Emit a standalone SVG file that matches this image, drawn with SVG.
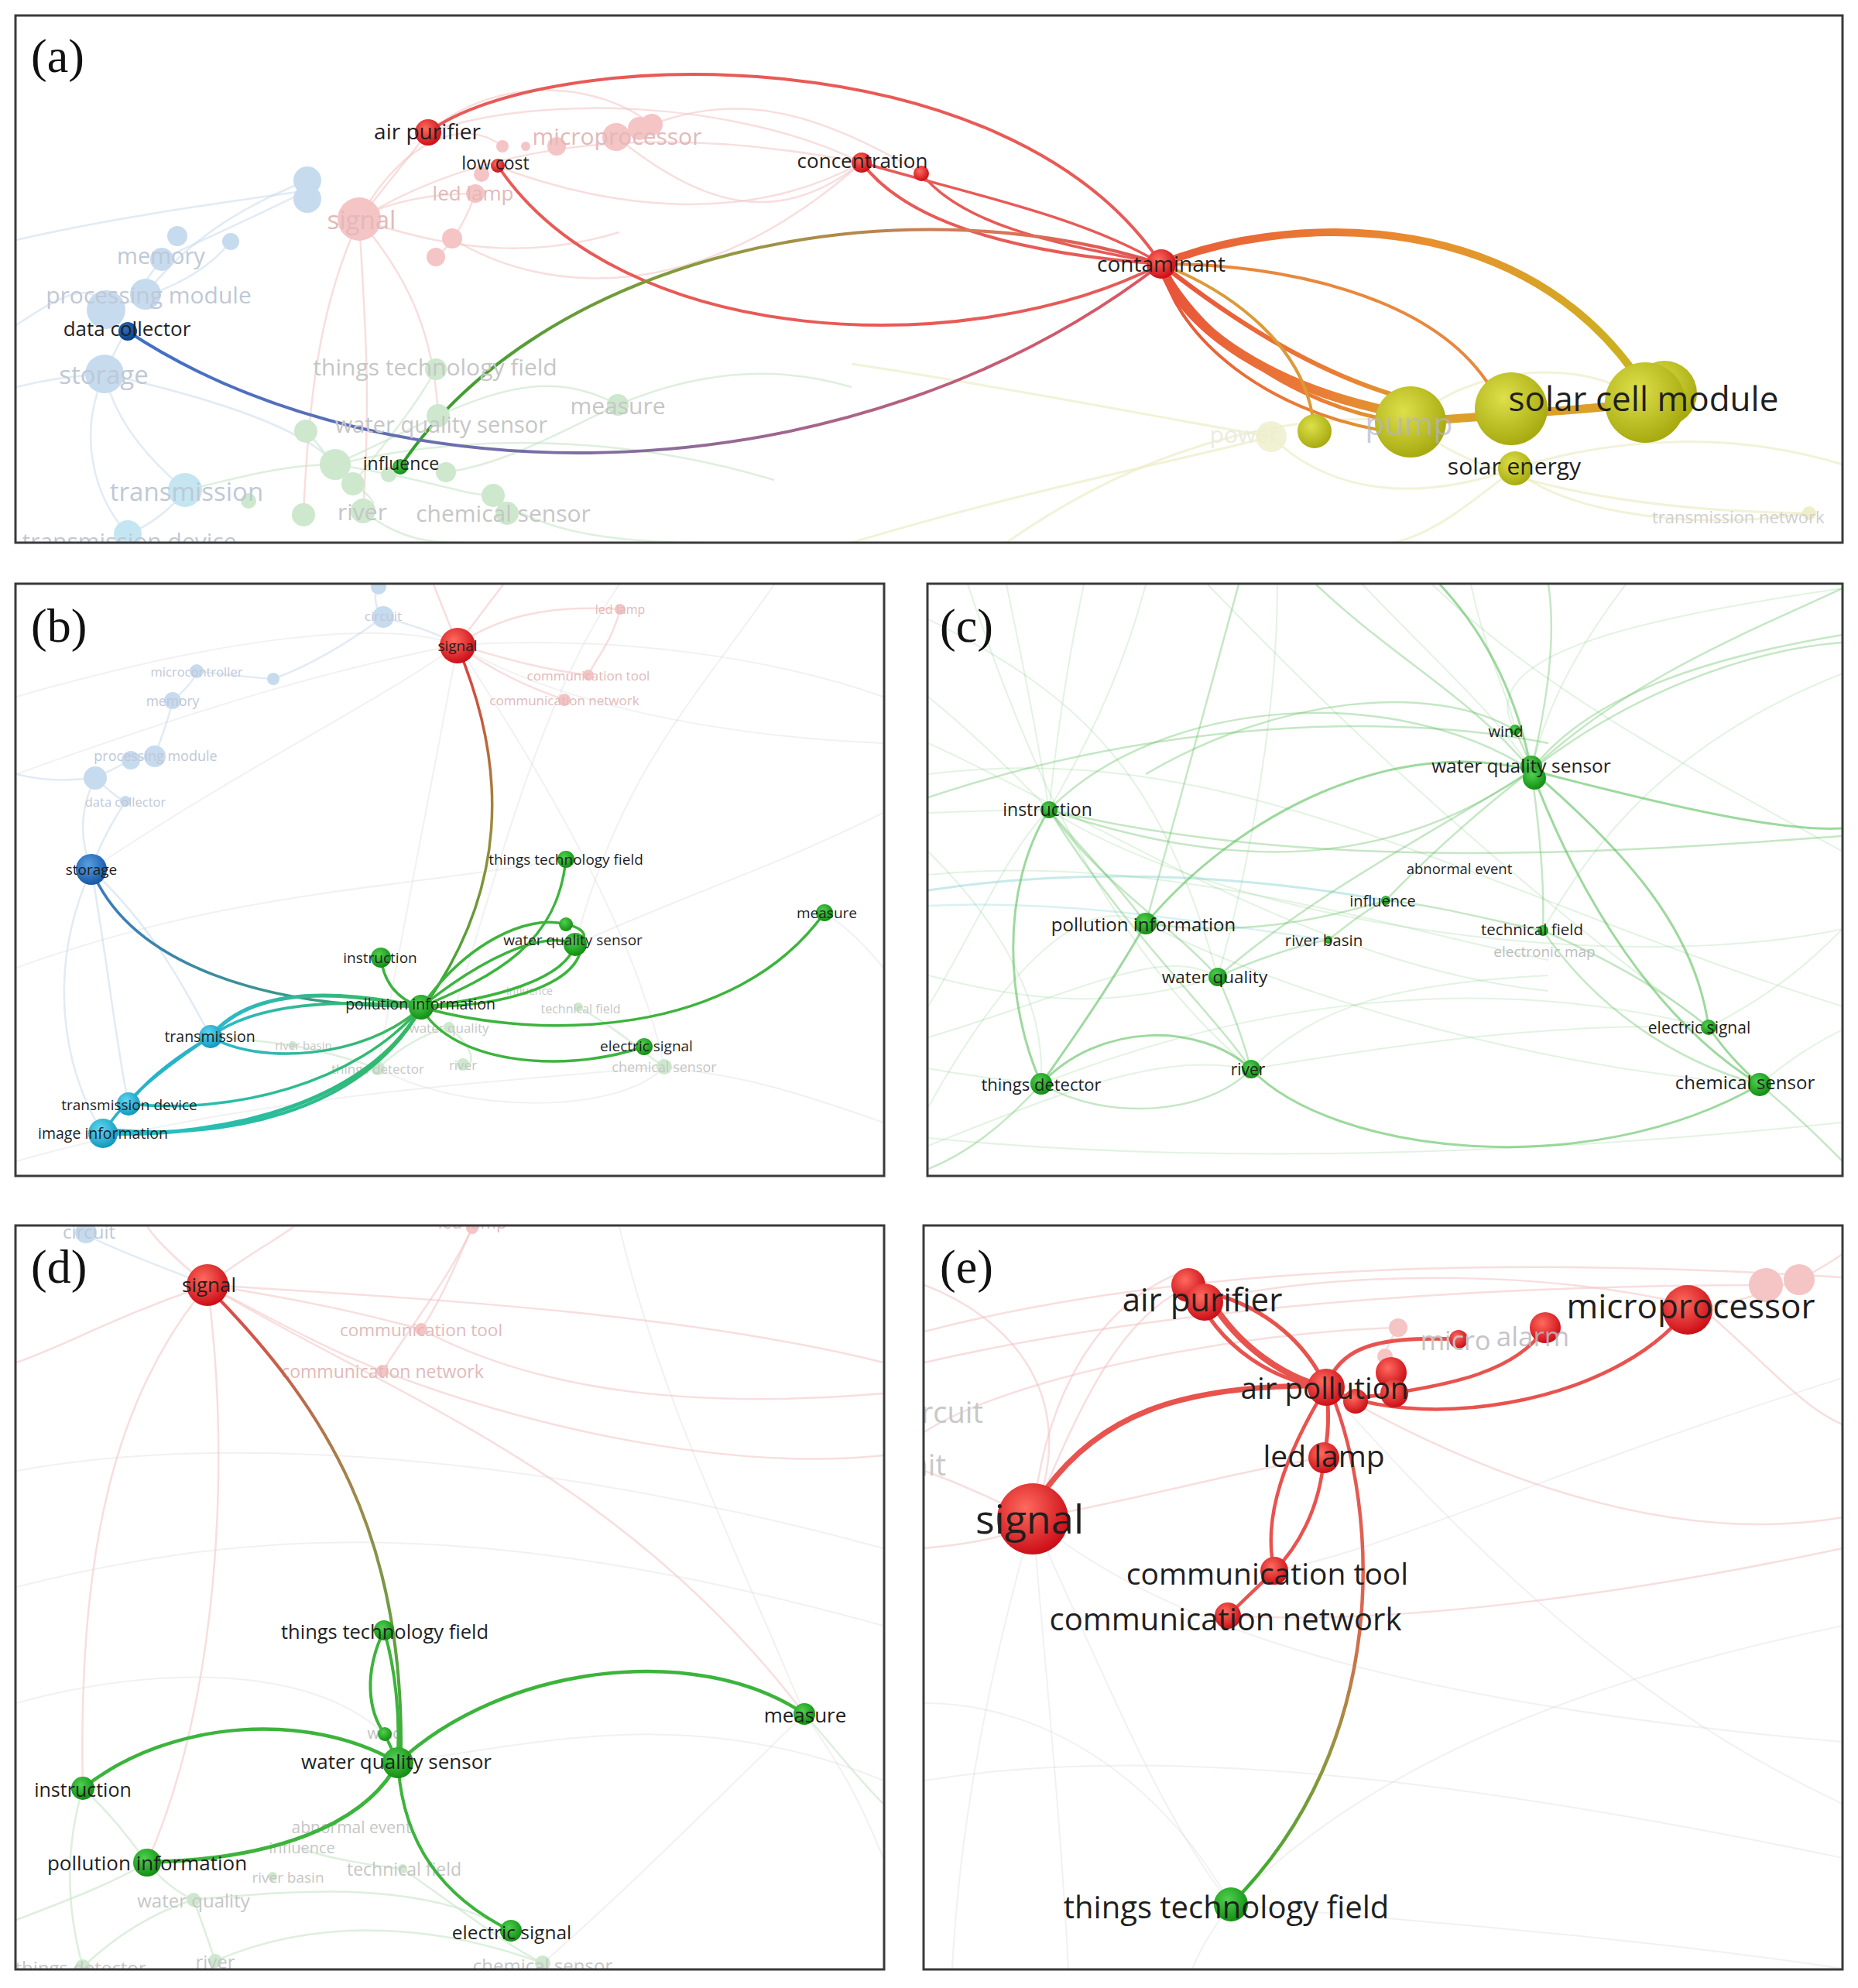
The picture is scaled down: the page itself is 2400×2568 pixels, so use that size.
<svg xmlns="http://www.w3.org/2000/svg" width="2400" height="2568" viewBox="0 0 2400 2568">
<style>
.t{font-family:"Open Sans","DejaVu Sans",sans-serif;fill:#1f1f1f;text-anchor:middle;dominant-baseline:central}
.fg{fill:#c6c6c6}.fp{fill:#e2b9b9}.fb{fill:#bfc8d6}
.pl{font-family:"Liberation Serif","Times New Roman",serif;font-size:62px;fill:#111}
.fr{fill:none;stroke:#3a3a3a;stroke-width:3}
.e{fill:none;stroke-linecap:round}
.bp{fill:none;stroke:#f2c2c2;stroke-width:2.5;opacity:.55}
.bb{fill:none;stroke:#c4d8ec;stroke-width:2.5;opacity:.5}
.bg{fill:none;stroke:#c6e4c6;stroke-width:2.5;opacity:.6}
.by{fill:none;stroke:#ecedc8;stroke-width:3;opacity:.7}
.bx{fill:none;stroke:#d8d8d8;stroke-width:2;opacity:.35}
.c1{fill:none;stroke:#5cbf5c;stroke-width:3;opacity:.6}
.c2{fill:none;stroke:#6cc46c;stroke-width:2.5;opacity:.4}
.c3{fill:none;stroke:#8ccf8c;stroke-width:2;opacity:.25}
.nR{fill:url(#gR)}.nG{fill:url(#gG)}.nB{fill:url(#gB)}.nC{fill:url(#gC)}.nY{fill:url(#gY)}
.pR{fill:#f5c4c4}.pB{fill:#c7dbef}.pG{fill:#cde8cd}.pC{fill:#c4e6f2}.pY{fill:#eeefca}
</style>
<defs>
<radialGradient id="gR" cx="40%" cy="35%" r="65%"><stop offset="0" stop-color="#ff6a5e"/><stop offset="1" stop-color="#cc0f18"/></radialGradient>
<radialGradient id="gG" cx="40%" cy="35%" r="65%"><stop offset="0" stop-color="#4fd04f"/><stop offset="1" stop-color="#138f13"/></radialGradient>
<radialGradient id="gB" cx="40%" cy="35%" r="65%"><stop offset="0" stop-color="#5a9ee0"/><stop offset="1" stop-color="#1558a8"/></radialGradient>
<radialGradient id="gDB" cx="40%" cy="35%" r="65%"><stop offset="0" stop-color="#2a70c0"/><stop offset="1" stop-color="#0a3f80"/></radialGradient>
<radialGradient id="gC" cx="40%" cy="35%" r="65%"><stop offset="0" stop-color="#5fd8f0"/><stop offset="1" stop-color="#1498bf"/></radialGradient>
<radialGradient id="gY" cx="40%" cy="35%" r="65%"><stop offset="0" stop-color="#dde04a"/><stop offset="1" stop-color="#a8ab10"/></radialGradient>
<linearGradient id="eA1" gradientUnits="userSpaceOnUse" x1="165" y1="428" x2="1500" y2="341"><stop offset="0" stop-color="#3d70c8"/><stop offset=".5" stop-color="#8a6c9c"/><stop offset="1" stop-color="#e05560"/></linearGradient>
<linearGradient id="eA2" gradientUnits="userSpaceOnUse" x1="517" y1="603" x2="1500" y2="341"><stop offset="0" stop-color="#2e9e2e"/><stop offset=".45" stop-color="#8e9a40"/><stop offset=".8" stop-color="#d8765a"/><stop offset="1" stop-color="#e05050"/></linearGradient>
<linearGradient id="eA3" gradientUnits="userSpaceOnUse" x1="1500" y1="341" x2="2125" y2="520"><stop offset="0" stop-color="#ea5a3a"/><stop offset=".5" stop-color="#e8902e"/><stop offset="1" stop-color="#c9b51e"/></linearGradient>
<linearGradient id="eA4" gradientUnits="userSpaceOnUse" x1="1500" y1="341" x2="1822" y2="545"><stop offset="0" stop-color="#e8503a"/><stop offset=".7" stop-color="#ea7e36"/><stop offset="1" stop-color="#dca02a"/></linearGradient>
<linearGradient id="eB1" gradientUnits="userSpaceOnUse" x1="600" y1="835" x2="560" y2="1295"><stop offset="0" stop-color="#e03c3c"/><stop offset=".5" stop-color="#9a8c3c"/><stop offset="1" stop-color="#36aa36"/></linearGradient>
<linearGradient id="eB2" gradientUnits="userSpaceOnUse" x1="118" y1="1123" x2="544" y2="1301"><stop offset="0" stop-color="#3a78c4"/><stop offset="1" stop-color="#3aa86a"/></linearGradient>
<linearGradient id="eB3" gradientUnits="userSpaceOnUse" x1="272" y1="1339" x2="544" y2="1301"><stop offset="0" stop-color="#2ab8d0"/><stop offset="1" stop-color="#3cb84c"/></linearGradient>
<linearGradient id="eB4" gradientUnits="userSpaceOnUse" x1="133" y1="1464" x2="544" y2="1301"><stop offset="0" stop-color="#22c0d8"/><stop offset="1" stop-color="#34b85a"/></linearGradient>
<linearGradient id="eD1" gradientUnits="userSpaceOnUse" x1="281" y1="1676" x2="518" y2="2258"><stop offset="0" stop-color="#e04848"/><stop offset=".5" stop-color="#9c8a4a"/><stop offset="1" stop-color="#3ab03a"/></linearGradient>
<linearGradient id="eE1" gradientUnits="userSpaceOnUse" x1="1720" y1="1800" x2="1590" y2="2460"><stop offset="0" stop-color="#e85050"/><stop offset=".4" stop-color="#de6650"/><stop offset=".65" stop-color="#a09040"/><stop offset="1" stop-color="#2eb02e"/></linearGradient>
<clipPath id="ca"><rect x="21" y="21" width="2358" height="679"/></clipPath>
<clipPath id="cb"><rect x="21" y="755" width="1120" height="763"/></clipPath>
<clipPath id="cc"><rect x="1199" y="755" width="1180" height="763"/></clipPath>
<clipPath id="cd"><rect x="21" y="1584" width="1120" height="959"/></clipPath>
<clipPath id="ce"><rect x="1194" y="1584" width="1185" height="959"/></clipPath>
</defs>
<rect width="2400" height="2568" fill="#fff"/>

<!-- ================= PANEL A ================= -->
<g id="panel-a" clip-path="url(#ca)">
<g id="a-background">
<path class="bp" d="M553,171 C700,120 950,130 1113,210"/>
<path class="bp" d="M464,283 C600,200 800,150 1113,210"/>
<path class="bp" d="M464,283 C520,350 560,420 566,537"/>
<path class="bp" d="M464,283 C470,400 480,500 469,660"/>
<path class="bp" d="M464,283 C420,380 400,480 392,665"/>
<path class="bp" d="M464,283 C520,180 600,150 649,189"/>
<path class="bp" d="M464,283 L553,171"/>
<path class="bp" d="M464,283 C500,260 560,250 614,250"/>
<path class="bp" d="M614,250 C600,290 580,320 563,332"/>
<path class="bp" d="M640,214 C760,260 950,300 1113,210"/>
<path class="bp" d="M842,161 C950,120 1050,140 1190,224"/>
<path class="bp" d="M796,177 C900,260 1000,300 1113,210"/>
<path class="bp" d="M553,171 C650,90 780,110 842,161"/>
<path class="bp" d="M464,283 C600,330 700,330 800,300"/>
<path class="bp" d="M584,308 C700,380 900,400 1113,210"/>
<path class="bb" d="M397,246 C330,280 260,310 209,335"/>
<path class="bb" d="M209,335 C190,360 180,370 188,380"/>
<path class="bb" d="M135,483 C150,450 160,430 165,428"/>
<path class="bb" d="M135,483 C150,550 200,600 239,633"/>
<path class="bb" d="M135,483 C100,560 120,640 165,690"/>
<path class="bb" d="M239,633 C220,660 190,680 165,690"/>
<path class="bb" d="M21,500 C60,490 100,485 135,483"/>
<path class="bb" d="M21,310 C150,280 300,260 397,246"/>
<path class="bb" d="M188,380 C250,300 330,260 397,233"/>
<path class="bb" d="M137,400 C200,380 260,360 298,312"/>
<path class="bb" d="M135,483 C300,520 400,560 433,600"/>
<path class="bb" d="M21,420 C80,380 120,360 137,400"/>
<path class="bg" d="M563,477 C540,520 500,570 456,625"/>
<path class="bg" d="M566,537 L433,600"/>
<path class="bg" d="M433,600 C470,640 500,650 469,660"/>
<path class="bg" d="M433,600 C560,620 600,640 637,640"/>
<path class="bg" d="M576,610 C650,600 720,560 798,523"/>
<path class="bg" d="M239,633 C300,620 360,600 433,600"/>
<path class="bg" d="M395,557 C420,580 440,620 456,625"/>
<path class="bg" d="M637,640 C700,690 800,700 900,701"/>
<path class="bg" d="M798,523 C900,480 1000,470 1100,500"/>
<path class="bg" d="M469,660 C520,700 560,701 600,701"/>
<path class="bg" d="M566,537 C650,500 720,480 798,523"/>
<path class="bg" d="M433,600 C600,560 800,560 1000,620"/>
<path class="by" d="M1642,564 C1700,620 1800,660 1957,605"/>
<path class="by" d="M1822,545 C1900,620 2100,660 2337,663"/>
<path class="by" d="M1957,605 C2000,650 2150,690 2337,663"/>
<path class="by" d="M1300,701 C1500,560 1700,530 1822,545"/>
<path class="by" d="M1957,605 C2100,560 2250,560 2380,600"/>
<path class="by" d="M1642,564 C1500,600 1300,640 1100,701"/>
<path class="by" d="M1822,545 C1900,470 2050,460 2125,520"/>
<path class="by" d="M1957,605 C1900,650 1850,690 1800,701"/>
<path class="by" d="M1100,470 C1300,500 1500,540 1642,564"/>
</g>
<g id="a-connectors">
<path class="e" stroke="#e85a56" stroke-width="4" d="M553,171 C700,60 1300,40 1500,341"/>
<path class="e" stroke="#e85a56" stroke-width="4" d="M643,214 C800,450 1250,470 1500,341"/>
<path class="e" stroke="#e85a56" stroke-width="4" d="M1113,210 C1180,300 1350,330 1500,341"/>
<path class="e" stroke="#e85a56" stroke-width="3.5" d="M1113,210 C1250,250 1400,280 1500,341"/>
<path class="e" stroke="#e85a56" stroke-width="3.5" d="M1190,224 C1250,300 1400,320 1500,341"/>
<path class="e" stroke="url(#eA2)" stroke-width="4" d="M517,603 C700,330 1150,230 1500,341"/>
<path class="e" stroke="url(#eA1)" stroke-width="4" d="M165,428 C500,650 1100,650 1500,341"/>
<path class="e" stroke="url(#eA3)" stroke-width="10" d="M1500,341 C1650,280 1950,260 2110,480"/>
<path class="e" stroke="#e8883e" stroke-width="4" d="M1500,341 C1650,340 1850,380 1925,500"/>
<path class="e" stroke="url(#eA4)" stroke-width="6" d="M1500,341 C1600,420 1700,480 1800,510"/>
<path class="e" stroke="url(#eA4)" stroke-width="12" d="M1500,341 C1530,430 1650,500 1790,530"/>
<path class="e" stroke="url(#eA4)" stroke-width="5" d="M1500,341 C1560,450 1680,520 1790,542"/>
<path class="e" stroke="url(#eA4)" stroke-width="4" d="M1500,341 C1520,440 1640,530 1780,555"/>
<path class="e" stroke="#dc9a38" stroke-width="4" d="M1500,341 C1600,380 1680,450 1695,535"/>
<path class="e" stroke="#dca028" stroke-width="11" d="M1822,545 C1880,540 2050,530 2125,520"/>
</g>
<g id="a-faded-nodes">
<circle class="pB" cx="397" cy="233" r="18"/><circle class="pB" cx="397" cy="257" r="18"/>
<circle class="pB" cx="229" cy="305" r="13"/><circle class="pB" cx="298" cy="312" r="11"/>
<circle class="pB" cx="209" cy="335" r="15"/><circle class="pB" cx="188" cy="380" r="20"/>
<circle class="pB" cx="137" cy="400" r="25"/><circle class="pB" cx="135" cy="483" r="25"/>
<circle class="pC" cx="239" cy="633" r="22"/><circle class="pC" cx="165" cy="690" r="18"/>
<circle class="pR" cx="464" cy="283" r="28"/><circle class="pR" cx="584" cy="308" r="13"/>
<circle class="pR" cx="563" cy="332" r="12"/><circle class="pR" cx="614" cy="250" r="12"/>
<circle class="pR" cx="622" cy="225" r="10"/><circle class="pR" cx="649" cy="189" r="8"/>
<circle class="pR" cx="679" cy="189" r="6"/><circle class="pR" cx="719" cy="189" r="12"/>
<circle class="pR" cx="796" cy="177" r="18"/><circle class="pR" cx="826" cy="166" r="15"/>
<circle class="pR" cx="842" cy="161" r="14"/>
<circle class="pG" cx="563" cy="477" r="14"/><circle class="pG" cx="566" cy="537" r="15"/>
<circle class="pG" cx="395" cy="557" r="15"/><circle class="pG" cx="433" cy="600" r="20"/>
<circle class="pG" cx="456" cy="625" r="15"/><circle class="pG" cx="576" cy="610" r="13"/>
<circle class="pG" cx="502" cy="613" r="10"/><circle class="pG" cx="469" cy="660" r="16"/>
<circle class="pG" cx="392" cy="665" r="15"/><circle class="pG" cx="637" cy="640" r="15"/>
<circle class="pG" cx="655" cy="663" r="15"/><circle class="pG" cx="798" cy="523" r="14"/>
<circle class="pG" cx="321" cy="647" r="10"/>
<circle class="pY" cx="2337" cy="663" r="9"/>
</g>
<g id="a-faded-labels">
<text class="t fp" x="797" y="175" font-size="30">microprocessor</text>
<text class="t fp" x="611" y="249" font-size="26">led lamp</text>
<text class="t fp" x="467" y="283" font-size="33">signal</text>
<text class="t fb" x="208" y="329" font-size="29">memory</text>
<text class="t fb" x="192" y="380" font-size="30">processing module</text>
<text class="t fb" x="134" y="483" font-size="33">storage</text>
<text class="t fg" x="562" y="473" font-size="30">things technology field</text>
<text class="t fg" x="570" y="547" font-size="29">water quality sensor</text>
<text class="t fg" x="798" y="523" font-size="30">measure</text>
<text class="t fb" x="241" y="634" font-size="33">transmission</text>
<text class="t fg" x="468" y="660" font-size="30">river</text>
<text class="t fg" x="650" y="662" font-size="30">chemical sensor</text>
<text class="t fb" x="167" y="698" font-size="30">transmission device</text>
<text class="t" x="1607" y="560" font-size="30" style="fill:#ebebe0">power</text>
<circle class="pY" cx="1642" cy="564" r="20" opacity=".8"/>
<text class="t" x="2134" y="667" font-size="22" style="fill:#cfcfcf;text-anchor:start">transmission network</text>
</g>
<g id="a-air-purifier"><circle class="nR" cx="553" cy="171" r="17"/><text class="t" x="552" y="169" font-size="28">air purifier</text></g>
<g id="a-low-cost"><circle class="nR" cx="643" cy="214" r="9"/><text class="t" x="640" y="210" font-size="23">low cost</text></g>
<g id="a-concentration"><circle class="nR" cx="1113" cy="210" r="13"/><circle class="nR" cx="1190" cy="224" r="10"/><text class="t" x="1114" y="207" font-size="26">concentration</text></g>
<g id="a-contaminant"><circle class="nR" cx="1500" cy="341" r="19"/><text class="t" x="1500" y="340" font-size="28">contaminant</text></g>
<g id="a-data-collector"><circle fill="url(#gDB)" cx="165" cy="428" r="12"/><text class="t" x="164" y="424" font-size="26">data collector</text></g>
<g id="a-influence"><circle class="nG" cx="517" cy="603" r="10"/><text class="t" x="518" y="598" font-size="23">influence</text></g>
<g id="a-small-yellow"><circle class="nY" cx="1698" cy="557" r="22"/></g>
<g id="a-pump"><circle class="nY" cx="1822" cy="545" r="46"/><text class="t" x="1820" y="546" font-size="41" style="fill:#b4b4cc;fill-opacity:.7">pump</text></g>
<g id="a-solar-energy"><circle class="nY" cx="1957" cy="605" r="22"/><circle class="nY" cx="1952" cy="528" r="47"/><text class="t" x="1956" y="601" font-size="30">solar energy</text></g>
<g id="a-solar-cell-module"><circle class="nY" cx="2150" cy="508" r="42"/><circle class="nY" cx="2125" cy="520" r="52"/><text class="t" x="2123" y="514" font-size="44">solar cell module</text></g>
</g>
<rect class="fr" x="20" y="20" width="2360" height="681"/>
<text class="pl" x="40" y="93">(a)</text>

<!-- ================= PANEL B ================= -->
<g id="panel-b" clip-path="url(#cb)">
<g id="b-background">
<path class="bx" d="M21,900 C300,820 500,800 591,833"/>
<path class="bx" d="M21,1000 C300,900 450,860 591,833"/>
<path class="bx" d="M591,833 C700,900 900,950 1141,960"/>
<path class="bx" d="M591,833 C800,820 1000,850 1141,900"/>
<path class="bx" d="M118,1123 C300,1000 500,900 591,833"/>
<path class="bx" d="M591,833 C560,1000 520,1200 488,1380"/>
<path class="bx" d="M591,833 C700,1000 820,1200 858,1378"/>
<path class="bx" d="M21,1250 C300,1150 500,1150 731,1110"/>
<path class="bx" d="M1141,1050 C1000,1120 900,1150 743,1220"/>
<path class="bx" d="M1141,1250 C1100,1200 1080,1190 1065,1179"/>
<path class="bx" d="M21,1500 C300,1420 600,1400 858,1378"/>
<path class="bx" d="M488,1380 C600,1440 800,1440 858,1378"/>
<path class="bx" d="M1141,1450 C1000,1400 950,1390 858,1378"/>
<path class="bx" d="M800,755 C700,900 650,1100 580,1327"/>
<path class="bx" d="M1000,755 C900,900 800,1000 743,1220"/>
<path class="bp" d="M591,833 C640,800 700,780 801,787"/>
<path class="bp" d="M591,833 C650,850 700,865 760,872"/>
<path class="bp" d="M591,833 C640,870 690,890 729,904"/>
<path class="bp" d="M801,787 C790,830 770,850 760,872"/>
<path class="bp" d="M591,833 L560,755"/>
<path class="bp" d="M591,833 L650,755"/>
<path class="bb" d="M495,797 C540,810 570,820 591,833"/>
<path class="bb" d="M495,797 C450,830 400,860 353,877"/>
<path class="bb" d="M254,867 C280,870 320,875 353,877"/>
<path class="bb" d="M223,905 C240,890 250,880 254,867"/>
<path class="bb" d="M223,905 C215,940 205,960 200,977"/>
<path class="bb" d="M200,977 L169,982 L123,1005"/>
<path class="bb" d="M123,1005 C140,1020 150,1030 162,1035"/>
<path class="bb" d="M162,1035 C140,1070 125,1100 118,1123"/>
<path class="bb" d="M123,1005 C100,1050 105,1090 118,1123"/>
<path class="bb" d="M118,1123 C60,1250 80,1380 133,1464"/>
<path class="bb" d="M118,1123 C140,1250 150,1350 166,1426"/>
<path class="bb" d="M118,1123 C200,1200 240,1280 272,1339"/>
<path class="bb" d="M495,797 C480,780 485,765 489,755"/>
<path class="bb" d="M21,1000 C60,1010 90,1008 123,1005"/>
<path class="bg" d="M580,1327 C620,1360 610,1380 598,1375"/>
<path class="bg" d="M488,1380 C520,1350 550,1335 580,1327"/>
<path class="bg" d="M747,1301 C800,1330 830,1360 858,1378"/>
<path class="bg" d="M272,1339 C350,1345 400,1350 488,1380"/>
</g>
<g id="b-faded-nodes">
<circle class="pB" cx="489" cy="758" r="10"/><circle class="pB" cx="495" cy="797" r="14"/>
<circle class="pB" cx="254" cy="867" r="9"/><circle class="pB" cx="353" cy="877" r="8"/>
<circle class="pB" cx="223" cy="905" r="11"/><circle class="pB" cx="200" cy="977" r="14"/>
<circle class="pB" cx="169" cy="982" r="12"/><circle class="pB" cx="123" cy="1005" r="15"/>
<circle class="pB" cx="162" cy="1035" r="7"/>
<circle class="pR" cx="801" cy="787" r="7"/><circle class="pR" cx="760" cy="872" r="7"/><circle class="pR" cx="729" cy="904" r="8"/>
<circle class="pG" cx="747" cy="1301" r="6"/><circle class="pG" cx="580" cy="1327" r="7"/><circle class="pG" cx="488" cy="1380" r="9"/>
<circle class="pG" cx="598" cy="1375" r="8"/><circle class="pG" cx="858" cy="1378" r="10"/><circle class="pG" cx="378" cy="1350" r="5"/>
</g>
<g id="b-faded-labels">
<text class="t fb" x="495" y="795" font-size="17">circuit</text>
<text class="t fp" x="801" y="787" font-size="16">led lamp</text>
<text class="t fb" x="254" y="867" font-size="16.5">microcontroller</text>
<text class="t fp" x="760" y="872" font-size="17">communication tool</text>
<text class="t fp" x="729" y="904" font-size="17">communication network</text>
<text class="t fb" x="223" y="905" font-size="17.5">memory</text>
<text class="t fb" x="201" y="976" font-size="18">processing module</text>
<text class="t fb" x="162" y="1035" font-size="16.5">data collector</text>
<text class="t fg" x="684" y="1279" font-size="14">influence</text>
<text class="t fg" x="750" y="1303" font-size="16">technical field</text>
<text class="t fg" x="580" y="1327" font-size="17">water quality</text>
<text class="t fg" x="392" y="1350" font-size="15">river basin</text>
<text class="t fg" x="488" y="1380" font-size="17">things detector</text>
<text class="t fg" x="598" y="1375" font-size="17">river</text>
<text class="t fg" x="858" y="1378" font-size="18">chemical sensor</text>
</g>
<g id="b-connectors">
<path class="e" stroke="url(#eB1)" stroke-width="3.5" d="M591,835 C660,1000 650,1150 555,1290"/>
<path class="e" stroke="url(#eB2)" stroke-width="3.5" d="M118,1123 C170,1250 350,1300 530,1300"/>
<path class="e" stroke="#3cb43c" stroke-width="3.5" d="M544,1301 C640,1260 720,1220 731,1110"/>
<path class="e" stroke="#3cb43c" stroke-width="3.5" d="M544,1301 C600,1220 680,1180 731,1194"/>
<path class="e" stroke="#3cb43c" stroke-width="3.5" d="M731,1194 C760,1200 760,1215 743,1220"/>
<path class="e" stroke="#3cb43c" stroke-width="3.5" d="M544,1301 C620,1240 700,1200 743,1220"/>
<path class="e" stroke="#3cb43c" stroke-width="3.5" d="M544,1301 C640,1290 730,1265 743,1220"/>
<path class="e" stroke="#3cb43c" stroke-width="3.5" d="M544,1301 C660,1300 740,1270 750,1228"/>
<path class="e" stroke="#3cb43c" stroke-width="3.5" d="M544,1301 C700,1345 950,1340 1065,1179"/>
<path class="e" stroke="#3cb43c" stroke-width="3.5" d="M544,1301 C580,1370 720,1390 832,1352"/>
<path class="e" stroke="#3cb43c" stroke-width="3.5" d="M544,1301 C510,1290 495,1265 492,1237"/>
<path class="e" stroke="url(#eB3)" stroke-width="5" d="M272,1339 C320,1280 420,1275 544,1301"/>
<path class="e" stroke="url(#eB3)" stroke-width="4" d="M272,1339 C330,1295 440,1290 544,1301"/>
<path class="e" stroke="url(#eB3)" stroke-width="3.5" d="M272,1339 C330,1375 470,1370 544,1301"/>
<path class="e" stroke="#28b4c8" stroke-width="4" d="M272,1339 C220,1370 185,1400 166,1426"/>
<path class="e" stroke="#28b4c8" stroke-width="3.5" d="M272,1339 C210,1380 160,1420 133,1464"/>
<path class="e" stroke="url(#eB4)" stroke-width="5" d="M544,1301 C480,1420 300,1470 133,1464"/>
<path class="e" stroke="url(#eB4)" stroke-width="4" d="M544,1301 C470,1440 280,1475 133,1458"/>
<path class="e" stroke="url(#eB4)" stroke-width="3.5" d="M544,1301 C460,1400 300,1440 166,1426"/>
</g>
<g id="b-signal"><circle class="nR" cx="591" cy="834" r="23"/><text class="t" x="591" y="834" font-size="19">signal</text></g>
<g id="b-storage"><circle class="nB" cx="118" cy="1123" r="20"/><text class="t" x="118" y="1123" font-size="19">storage</text></g>
<g id="b-things-technology-field"><circle class="nG" cx="731" cy="1110" r="11"/><text class="t" x="731" y="1110" font-size="19">things technology field</text></g>
<g id="b-measure"><circle class="nG" cx="1065" cy="1179" r="11"/><text class="t" x="1068" y="1179" font-size="19">measure</text></g>
<g id="b-water-quality-sensor"><circle class="nG" cx="731" cy="1194" r="9"/><circle class="nG" cx="743" cy="1220" r="15"/><text class="t" x="740" y="1214" font-size="19">water quality sensor</text></g>
<g id="b-instruction"><circle class="nG" cx="492" cy="1237" r="13"/><text class="t" x="491" y="1237" font-size="19">instruction</text></g>
<g id="b-pollution-information"><circle class="nG" cx="544" cy="1301" r="16"/><text class="t" x="543" y="1296" font-size="19.5">pollution information</text></g>
<g id="b-transmission"><circle class="nC" cx="272" cy="1339" r="15"/><text class="t" x="271" y="1338" font-size="19.5">transmission</text></g>
<g id="b-electric-signal"><circle class="nG" cx="832" cy="1352" r="11"/><text class="t" x="835" y="1351" font-size="19">electric signal</text></g>
<g id="b-transmission-device"><circle class="nC" cx="166" cy="1426" r="15"/><text class="t" x="167" y="1427" font-size="19">transmission device</text></g>
<g id="b-image-information"><circle class="nC" cx="133" cy="1464" r="19"/><text class="t" x="133" y="1463" font-size="19.5">image information</text></g>
</g>
<rect class="fr" x="20" y="754" width="1122" height="765"/>
<text class="pl" x="40" y="829">(b)</text>

<!-- ================= PANEL C ================= -->
<g id="panel-c" clip-path="url(#cc)">
<g id="c-connectors">
<path class="c3" d="M1400,755 C1380,850 1365,950 1355,1046"/>
<path class="c3" d="M1300,755 C1320,850 1340,950 1355,1046"/>
<path class="c3" d="M1480,755 C1450,870 1400,970 1355,1046"/>
<path class="c2" d="M1600,755 C1560,900 1520,1050 1480,1193"/>
<path class="c2" d="M1700,755 C1800,850 1900,900 1978,995"/>
<path class="c3" d="M1760,755 C1860,860 1940,930 1978,995"/>
<path class="c3" d="M1850,755 C2000,900 2200,1000 2380,1100"/>
<path class="c2" d="M2380,820 C2200,850 2050,900 1978,995"/>
<path class="c3" d="M2380,870 C2150,960 2050,1100 1993,1202"/>
<path class="c3" d="M1199,1480 C1400,1400 1500,1360 1616,1381"/>
<path class="c3" d="M1616,1381 C1800,1350 2000,1320 2207,1327"/>
<path class="c3" d="M1199,1300 C1260,1200 1300,1100 1355,1046"/>
<path class="c3" d="M1199,900 C1260,950 1310,1000 1355,1046"/>
<path class="c3" d="M1355,1046 C1600,1200 2100,1260 2380,1200"/>
<path class="c2" d="M1355,1046 C1700,1130 2100,1100 2380,1080"/>
<path class="e" stroke="#8fd6d6" stroke-width="3" opacity=".5" d="M1199,1150 C1400,1120 1600,1130 1790,1163"/>
<path class="e" stroke="#8fd6d6" stroke-width="2.5" opacity=".35" d="M1199,1170 C1400,1160 1600,1200 1716,1214"/>
<path class="c3" d="M1199,1130 C1500,1100 1800,1200 2000,1240"/>
<path class="c3" d="M1199,1050 C1250,1048 1300,1046 1355,1046"/>
<path class="c2" d="M1345,1400 C1300,1450 1250,1490 1199,1510"/>
<path class="c3" d="M1199,1380 C1250,1390 1300,1395 1345,1400"/>
<path class="c3" d="M1199,1430 C1300,1250 1400,1150 1480,1193"/>
<path class="c3" d="M1616,1381 C1700,1300 1800,1270 2000,1260"/>
<path class="c2" d="M2273,1401 C2320,1440 2350,1470 2380,1500"/>
<path class="c3" d="M2273,1401 C2310,1370 2340,1350 2380,1330"/>
<path class="c3" d="M1199,800 C1400,900 1500,1000 1573,1262"/>
<path class="c3" d="M1250,755 C1300,900 1400,1200 1616,1381"/>
<path class="c3" d="M1199,1000 C1600,950 1900,1150 2380,1300"/>
<path class="c3" d="M1560,755 C1700,900 1900,1100 2207,1327"/>
<path class="c3" d="M2380,760 C2100,800 1900,850 1957,943"/>
<path class="c3" d="M1199,1260 C1350,1300 1450,1300 1573,1262"/>
<path class="c2" d="M1199,1030 C1500,930 1800,920 2000,960"/>
<path class="c3" d="M1199,960 C1400,1050 1700,1250 2000,1280"/>
<path class="c2" d="M1355,1046 C1600,1130 1800,1120 1978,995"/>
<path class="c3" d="M1650,755 C1650,900 1620,1100 1573,1262"/>
<path class="c3" d="M1900,755 C1920,850 1950,900 1957,943"/>
<path class="c3" d="M2100,755 C2050,820 2000,900 1978,995"/>
<path class="c2" d="M2380,760 C2250,820 2100,880 1978,995"/>
<path class="c3" d="M1199,1340 C1400,1280 1500,1220 1573,1262"/>
<path class="c3" d="M1345,1400 C1600,1300 1900,1250 2207,1327"/>
<path class="c3" d="M1199,1470 C1500,1500 1900,1500 2380,1450"/>
<path class="c3" d="M2207,1327 C2300,1280 2350,1230 2380,1200"/>
<path class="c3" d="M1480,1193 C1700,1300 2000,1380 2273,1401"/>
<path class="c3" d="M1199,1100 C1300,1200 1350,1300 1345,1400"/>
<path class="c2" d="M1355,1046 C1500,900 1800,880 1978,995"/>
<path class="c1" d="M1355,1046 C1290,1150 1300,1300 1345,1400"/>
<path class="c2" d="M1355,1046 C1400,1100 1450,1150 1480,1193"/>
<path class="c2" d="M1355,1046 C1420,1140 1520,1200 1573,1262"/>
<path class="c2" d="M1355,1046 C1450,1200 1560,1300 1616,1381"/>
<path class="c1" d="M1480,1193 C1600,1050 1800,950 1978,995"/>
<path class="c1" d="M1480,1193 C1430,1280 1380,1350 1345,1400"/>
<path class="c1" d="M1345,1400 C1420,1320 1550,1320 1616,1381"/>
<path class="c2" d="M1345,1400 C1430,1450 1560,1440 1616,1381"/>
<path class="c1" d="M1616,1381 C1720,1490 2050,1530 2273,1401"/>
<path class="c2" d="M1573,1262 C1700,1150 1880,1060 1978,995"/>
<path class="c2" d="M1573,1262 C1590,1300 1605,1340 1616,1381"/>
<path class="c1" d="M1978,995 C2100,1100 2190,1200 2207,1327"/>
<path class="c1" d="M1978,995 C2040,1160 2140,1320 2273,1401"/>
<path class="c2" d="M1993,1202 C2060,1300 2160,1370 2273,1401"/>
<path class="c1" d="M2207,1327 C2230,1360 2250,1380 2273,1401"/>
<path class="c2" d="M1957,943 C1965,960 1972,975 1978,990"/>
<path class="c1" d="M1978,995 C1960,900 1920,820 1860,755"/>
<path class="c2" d="M1978,995 C2000,900 2010,820 2000,755"/>
<path class="c1" d="M1978,995 C2150,1040 2300,1075 2380,1070"/>
<path class="c2" d="M1978,995 C2100,900 2250,840 2380,830"/>
<path class="c2" d="M1480,1193 C1600,1210 1700,1190 1790,1163"/>
<path class="c2" d="M1790,1163 C1850,1100 1920,1040 1978,995"/>
<path class="c2" d="M1716,1214 C1740,1195 1765,1175 1790,1163"/>
<path class="c2" d="M1573,1262 C1620,1240 1680,1220 1716,1214"/>
<path class="c2" d="M1790,1163 C1860,1170 1930,1190 1993,1202"/>
<path class="c2" d="M1993,1202 C2080,1240 2150,1280 2207,1327"/>
<path class="c2" d="M1978,995 C1990,1080 1995,1150 1993,1202"/>
<path class="c2" d="M1957,943 C1850,880 1650,900 1480,1000"/>
</g>
<g id="c-wind"><circle class="nG" cx="1957" cy="943" r="7"/><text class="t" x="1945" y="944" font-size="20">wind</text></g>
<g id="c-water-quality-sensor"><circle class="nG" cx="1978" cy="990" r="14"/><circle class="nG" cx="1982" cy="1005" r="15"/><text class="t" x="1965" y="988" font-size="24.5">water quality sensor</text></g>
<g id="c-instruction"><circle class="nG" cx="1355" cy="1046" r="11"/><text class="t" x="1353" y="1045" font-size="23">instruction</text></g>
<g id="c-abnormal-event"><text class="t" x="1885" y="1121" font-size="18.5">abnormal event</text></g>
<g id="c-influence"><circle class="nG" cx="1790" cy="1163" r="6"/><text class="t" x="1786" y="1163" font-size="20">influence</text></g>
<g id="c-pollution-information"><circle class="nG" cx="1480" cy="1193" r="14"/><text class="t" x="1477" y="1193" font-size="24">pollution information</text></g>
<g id="c-river-basin"><circle class="nG" cx="1716" cy="1214" r="5"/><text class="t" x="1710" y="1214" font-size="20.5">river basin</text></g>
<g id="c-technical-field"><circle class="nG" cx="1993" cy="1202" r="7"/><text class="t" x="1979" y="1200" font-size="20.5">technical field</text></g>
<g id="c-electronic-map"><text class="t" x="1995" y="1229" font-size="19" style="fill:#bdbdbd">electronic map</text></g>
<g id="c-water-quality"><circle class="nG" cx="1573" cy="1262" r="12"/><text class="t" x="1569" y="1261" font-size="22.5">water quality</text></g>
<g id="c-electric-signal"><circle class="nG" cx="2207" cy="1327" r="10"/><text class="t" x="2195" y="1327" font-size="21">electric signal</text></g>
<g id="c-things-detector"><circle class="nG" cx="1345" cy="1400" r="14"/><text class="t" x="1345" y="1400" font-size="22">things detector</text></g>
<g id="c-river"><circle class="nG" cx="1616" cy="1381" r="12"/><text class="t" x="1612" y="1381" font-size="21">river</text></g>
<g id="c-chemical-sensor"><circle class="nG" cx="2273" cy="1401" r="15"/><text class="t" x="2254" y="1397" font-size="24">chemical sensor</text></g>
</g>
<rect class="fr" x="1198" y="754" width="1182" height="765"/>
<text class="pl" x="1214" y="829">(c)</text>

<!-- ================= PANEL D ================= -->
<g id="panel-d" clip-path="url(#cd)">
<g id="d-background">
<path class="bp" d="M268,1660 C230,1630 200,1600 190,1584"/>
<path class="bp" d="M268,1660 C320,1620 360,1600 380,1584"/>
<path class="bp" d="M268,1660 C400,1680 480,1700 544,1717"/>
<path class="bp" d="M268,1660 C380,1720 440,1750 494,1771"/>
<path class="bp" d="M544,1717 C570,1680 590,1630 610,1586"/>
<path class="bp" d="M494,1771 C540,1700 580,1650 610,1586"/>
<path class="bp" d="M268,1660 C150,1700 80,1740 21,1760"/>
<path class="bp" d="M268,1660 C150,1800 100,2000 107,2310"/>
<path class="bp" d="M268,1660 C300,1900 280,2200 190,2406"/>
<path class="bp" d="M268,1660 C500,1800 800,1900 1039,2214"/>
<path class="bp" d="M268,1660 C600,1680 900,1700 1141,1760"/>
<path class="bp" d="M544,1717 C700,1800 900,1820 1141,1800"/>
<path class="bp" d="M494,1771 C700,1850 950,1900 1141,1880"/>
<path class="bb" d="M111,1595 C160,1620 220,1640 268,1660"/>
<path class="bx" d="M21,1900 C300,1850 700,1880 1141,2000"/>
<path class="bx" d="M21,2050 C300,1980 600,1950 1141,2100"/>
<path class="bx" d="M1141,2300 C900,2200 700,2250 514,2277"/>
<path class="bx" d="M1039,2214 C1100,2300 1120,2350 1141,2400"/>
<path class="bx" d="M1039,2214 C900,2350 800,2450 701,2536"/>
<path class="bx" d="M800,1584 C850,1800 950,2000 1039,2214"/>
<path class="bx" d="M21,2200 C200,2150 400,2150 497,2240"/>
<path class="bg" d="M107,2310 C150,2350 170,2380 190,2406"/>
<path class="bg" d="M190,2406 C210,2430 230,2445 250,2454"/>
<path class="bg" d="M250,2454 C260,2480 270,2510 278,2533"/>
<path class="bg" d="M107,2541 C150,2500 200,2470 250,2454"/>
<path class="bg" d="M107,2310 C80,2400 90,2480 107,2541"/>
<path class="bg" d="M387,2387 C420,2400 480,2410 520,2414"/>
<path class="bg" d="M520,2414 C600,2470 650,2510 701,2536"/>
<path class="bg" d="M21,2480 C100,2450 150,2430 190,2406"/>
<path class="bg" d="M250,2454 C400,2440 550,2430 660,2494"/>
<path class="bg" d="M278,2533 C400,2480 550,2480 701,2536"/>
<path class="bg" d="M1039,2214 C1080,2260 1110,2300 1141,2330"/>
</g>
<g id="d-faded-nodes">
<circle class="pB" cx="111" cy="1592" r="14"/><circle class="pR" cx="610" cy="1586" r="8"/>
<circle class="pR" cx="544" cy="1717" r="8"/><circle class="pR" cx="494" cy="1771" r="8"/>
<circle class="pG" cx="520" cy="2414" r="6"/><circle class="pG" cx="250" cy="2454" r="9"/>
<circle class="pG" cx="107" cy="2541" r="10"/><circle class="pG" cx="278" cy="2533" r="9"/>
<circle class="pG" cx="701" cy="2536" r="10"/><circle class="pG" cx="352" cy="2424" r="6"/>
</g>
<g id="d-faded-labels">
<text class="t fb" x="115" y="1590" font-size="24">circuit</text>
<text class="t fp" x="610" y="1578" font-size="22">led lamp</text>
<text class="t fp" x="544" y="1717" font-size="22.5">communication tool</text>
<text class="t fp" x="494" y="1771" font-size="23">communication network</text>
<text class="t" x="497" y="2238" font-size="20" style="fill:#c0c0c0">wind</text>
<text class="t fg" x="454" y="2360" font-size="21">abnormal event</text>
<text class="t fg" x="390" y="2386" font-size="20">influence</text>
<text class="t fg" x="372" y="2425" font-size="19">river basin</text>
<text class="t fg" x="522" y="2414" font-size="23">technical field</text>
<text class="t fg" x="250" y="2454" font-size="24">water quality</text>
<text class="t fg" x="104" y="2541" font-size="24">things detector</text>
<text class="t fg" x="278" y="2533" font-size="24">river</text>
<text class="t fg" x="701" y="2538" font-size="24">chemical sensor</text>
</g>
<g id="d-connectors">
<path class="e" stroke="url(#eD1)" stroke-width="4" d="M281,1676 C420,1820 520,1980 518,2258"/>
<path class="e" stroke="#3cb43c" stroke-width="4" d="M496,2106 C470,2160 475,2210 497,2240"/>
<path class="e" stroke="#3cb43c" stroke-width="4" d="M496,2106 C512,2160 516,2220 514,2262"/>
<path class="e" stroke="#3cb43c" stroke-width="4" d="M497,2240 L514,2277"/>
<path class="e" stroke="#3cb43c" stroke-width="4.5" d="M514,2277 C650,2150 900,2120 1039,2214"/>
<path class="e" stroke="#3cb43c" stroke-width="4.5" d="M514,2277 C400,2210 220,2220 107,2310"/>
<path class="e" stroke="#3cb43c" stroke-width="5" d="M514,2277 C470,2360 350,2400 205,2405"/>
<path class="e" stroke="#3cb43c" stroke-width="4" d="M514,2277 C520,2380 570,2450 660,2494"/>
</g>
<g id="d-signal"><circle class="nR" cx="268" cy="1660" r="27"/><text class="t" x="270" y="1659" font-size="26">signal</text></g>
<g id="d-things-technology-field"><circle class="nG" cx="496" cy="2106" r="13"/><circle class="nG" cx="497" cy="2240" r="9"/><text class="t" x="497" y="2107" font-size="25.5">things technology field</text></g>
<g id="d-water-quality-sensor"><circle class="nG" cx="514" cy="2277" r="20"/><text class="t" x="512" y="2275" font-size="26">water quality sensor</text></g>
<g id="d-measure"><circle class="nG" cx="1039" cy="2214" r="14"/><text class="t" x="1040" y="2215" font-size="26">measure</text></g>
<g id="d-instruction"><circle class="nG" cx="107" cy="2310" r="15"/><text class="t" x="107" y="2311" font-size="25">instruction</text></g>
<g id="d-pollution-information"><circle class="nG" cx="190" cy="2406" r="18"/><text class="t" x="190" y="2406" font-size="26">pollution information</text></g>
<g id="d-electric-signal"><circle class="nG" cx="660" cy="2494" r="14"/><text class="t" x="661" y="2495" font-size="24.5">electric signal</text></g>
</g>
<rect class="fr" x="20" y="1583" width="1122" height="961"/>
<text class="pl" x="40" y="1657">(d)</text>

<!-- ================= PANEL E ================= -->
<g id="panel-e" clip-path="url(#ce)">
<g id="e-background">
<path class="bp" d="M1194,1720 C1500,1640 1900,1620 2380,1650"/>
<path class="bp" d="M1194,1760 C1500,1690 1900,1660 2281,1660"/>
<path class="bp" d="M1334,1962 C1400,1800 1450,1700 1539,1660"/>
<path class="bp" d="M1334,1962 C1350,1800 1420,1680 1535,1640"/>
<path class="bp" d="M1194,1900 C1250,1920 1290,1940 1334,1962"/>
<path class="bp" d="M1194,1850 C1300,1780 1600,1720 1806,1715"/>
<path class="bp" d="M2198,1689 C2260,1680 2300,1660 2324,1653"/>
<path class="bp" d="M2324,1653 C2350,1640 2365,1630 2380,1620"/>
<path class="bp" d="M2198,1689 C2280,1760 2330,1820 2380,1840"/>
<path class="bp" d="M1713,1792 C1900,1900 2150,2000 2380,1960"/>
<path class="bp" d="M1586,2087 C1800,2100 2100,2060 2380,2000"/>
<path class="bp" d="M1194,2000 C1300,1990 1320,1975 1334,1962"/>
<path class="bp" d="M1334,1962 C1500,1930 1600,1900 1710,1883"/>
<path class="bp" d="M1806,1715 C1790,1740 1789,1750 1789,1752"/>
<path class="bp" d="M1194,1660 C1300,1700 1400,1800 1334,1962"/>
<path class="bp" d="M1563,1678 C1750,1640 2000,1640 2198,1689"/>
<path class="bx" d="M1334,1962 C1350,2150 1370,2350 1380,2543"/>
<path class="bx" d="M1334,1962 C1420,2150 1500,2350 1590,2460"/>
<path class="bx" d="M1334,1962 C1280,2150 1240,2350 1230,2543"/>
<path class="bx" d="M1334,1962 C1500,2100 1800,2200 2380,2250"/>
<path class="bx" d="M1194,2300 C1500,2250 1900,2300 2380,2400"/>
<path class="bx" d="M1590,2460 C1700,2350 1900,2200 2380,2100"/>
<path class="bx" d="M1590,2460 C1800,2480 2100,2500 2380,2543"/>
<path class="bx" d="M1646,2029 C1800,2000 2000,1900 2380,1780"/>
<path class="bx" d="M1713,1792 C1900,2000 2100,2200 2380,2330"/>
<path class="bx" d="M1590,2460 C1560,2500 1550,2520 1540,2543"/>
<path class="bx" d="M1194,2200 C1350,2200 1500,2300 1590,2460"/>
</g>
<g id="e-faded">
<circle class="pR" cx="2281" cy="1660" r="22"/><circle class="pR" cx="2324" cy="1653" r="20"/>
<circle class="pR" cx="1806" cy="1715" r="12"/><circle class="pR" cx="1789" cy="1752" r="10"/>
<text class="t" x="1270" y="1823" font-size="38" style="fill:#c8c8c8;text-anchor:end">circuit</text>
<text class="t" x="1222" y="1891" font-size="38" style="fill:#c8c8c8;text-anchor:end">unit</text>
</g>
<g id="e-connectors">
<path class="e" stroke="#e8534e" stroke-width="7" d="M1350,1925 C1420,1830 1520,1790 1700,1790"/>
<path class="e" stroke="#e8534e" stroke-width="8" d="M1563,1678 C1600,1740 1660,1780 1713,1792"/>
<path class="e" stroke="#e8534e" stroke-width="5" d="M1539,1660 C1575,1745 1650,1785 1713,1792"/>
<path class="e" stroke="#e8534e" stroke-width="5" d="M1563,1670 C1640,1690 1690,1740 1713,1792"/>
<path class="e" stroke="#e8534e" stroke-width="5" d="M1713,1792 C1730,1740 1780,1725 1884,1730"/>
<path class="e" stroke="#e8534e" stroke-width="4.5" d="M1760,1805 C1880,1790 1960,1770 1996,1715"/>
<path class="e" stroke="#e8534e" stroke-width="4.5" d="M1713,1792 C1820,1850 2080,1820 2180,1692"/>
<path class="e" stroke="#e8534e" stroke-width="5" d="M1713,1792 C1718,1830 1715,1860 1710,1883"/>
<path class="e" stroke="#e8534e" stroke-width="4.5" d="M1713,1792 C1660,1880 1630,1960 1646,2029"/>
<path class="e" stroke="#e8534e" stroke-width="4.5" d="M1710,1883 C1705,1950 1675,2000 1646,2029"/>
<path class="e" stroke="#e8534e" stroke-width="4.5" d="M1646,2029 L1586,2087"/>
<path class="e" stroke="url(#eE1)" stroke-width="4.5" d="M1720,1800 C1780,1950 1800,2250 1590,2460"/>
</g>
<g id="e-signal"><circle class="nR" cx="1334" cy="1962" r="46"/><text class="t" x="1330" y="1960" font-size="52">signal</text></g>
<g id="e-air-purifier"><circle class="nR" cx="1535" cy="1660" r="22"/><circle class="nR" cx="1556" cy="1682" r="24"/><text class="t" x="1553" y="1677" font-size="42">air purifier</text></g>
<g id="e-micro"><circle class="nR" cx="1884" cy="1730" r="12"/><text class="t" x="1880" y="1731" font-size="34" style="fill:#c4c4c4">micro</text></g>
<g id="e-alarm"><circle class="nR" cx="1996" cy="1715" r="20"/><text class="t" x="1980" y="1725" font-size="35" style="fill:#b8b8c2;fill-opacity:.85">alarm</text></g>
<g id="e-microprocessor"><circle class="nR" cx="2180" cy="1692" r="32"/><text class="t" x="2184" y="1686" font-size="44">microprocessor</text></g>
<g id="e-air-pollution"><circle class="nR" cx="1797" cy="1773" r="20"/><circle class="nR" cx="1801" cy="1800" r="18"/><circle class="nR" cx="1751" cy="1810" r="16"/><circle class="nR" cx="1713" cy="1792" r="24"/><text class="t" x="1711" y="1792" font-size="38.5">air pollution</text></g>
<g id="e-led-lamp"><circle class="nR" cx="1710" cy="1883" r="20"/><text class="t" x="1710" y="1879" font-size="39">led lamp</text></g>
<g id="e-communication-tool"><circle class="nR" cx="1646" cy="2029" r="18"/><text class="t" x="1637" y="2031" font-size="39">communication tool</text></g>
<g id="e-communication-network"><circle class="nR" cx="1586" cy="2087" r="17"/><text class="t" x="1583" y="2090" font-size="40">communication network</text></g>
<g id="e-things-technology-field"><circle class="nG" cx="1590" cy="2460" r="22"/><text class="t" x="1584" y="2462" font-size="40">things technology field</text></g>
</g>
<rect class="fr" x="1193" y="1583" width="1187" height="961"/>
<text class="pl" x="1214" y="1657">(e)</text>
</svg>
